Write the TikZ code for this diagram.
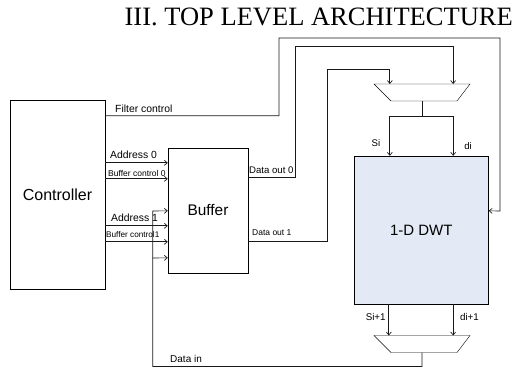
\documentclass[tikz,border=0pt]{standalone}
\usepackage{fontspec}
\setmainfont{Liberation Sans}
\newfontfamily\titlefont{Liberation Serif}
\usetikzlibrary{arrows.meta}
\definecolor{dwtblue}{RGB}{227,234,245}
\tikzset{
  blk/.style={draw,rectangle,inner sep=0pt},
  wire/.style={draw=black!90,line width=.65pt},
  sig/.style={wire,-{Straight Barb[length=3pt,width=5pt]}},
  lbl/.style={inner sep=0pt,font=\fontsize{10.4}{12}\selectfont},
  slbl/.style={inner sep=0pt,font=\fontsize{8.5}{10}\selectfont}
}
\begin{document}
\begin{tikzpicture}[x=1pt,y=-1pt]
\useasboundingbox (0,0) rectangle (515,367);
\node[anchor=base east,inner sep=0pt,font=\titlefont\fontsize{26.5}{30}\selectfont] (title) at (513,25) {III. TOP LEVEL ARCHITECTURE};

\node[blk,minimum width=95pt,minimum height=189pt,font=\fontsize{16}{19}\selectfont] (ctrl) at (57.5,194.5) {Controller};
\node[blk,minimum width=80pt,minimum height=125pt,font=\fontsize{15.4}{18}\selectfont] (buf) at (208,210.5) {Buffer};
\node[blk,fill=dwtblue,minimum width=134.5pt,minimum height=148pt,font=\fontsize{15}{18}\selectfont] (dwt) at (421.25,230) {1-D DWT};

\path (422,92.5) coordinate (muxtop) +(-48,-8.5) coordinate (mt-nw) +(48,-8.5) coordinate (mt-ne)
  +(35,8.5) coordinate (mt-se) +(-31,8.5) coordinate (mt-sw) +(0,-8.5) coordinate (mt-n) +(0,8.5) coordinate (mt-s);
\path (422,344) coordinate (muxbot) +(-48,-8.5) coordinate (mb-nw) +(48,-8.5) coordinate (mb-ne)
  +(35,8.5) coordinate (mb-se) +(-31,8.5) coordinate (mb-sw) +(0,-8.5) coordinate (mb-n) +(0,8.5) coordinate (mb-s);
\draw (mt-nw) -- (mt-ne) -- (mt-se) -- (mt-sw) -- cycle;
\draw (mb-nw) -- (mb-ne) -- (mb-se) -- (mb-sw) -- cycle;

\coordinate (a0) at ([yshift=-15pt]buf.north west);
\coordinate (bc0) at ([yshift=-31pt]buf.north west);
\coordinate (din0) at ([yshift=-63pt]buf.north west);
\coordinate (a1) at ([yshift=-78pt]buf.north west);
\coordinate (bc1) at ([yshift=-94pt]buf.north west);
\coordinate (din1) at ([yshift=-110pt]buf.north west);
\coordinate (do0) at ([yshift=-30pt]buf.north east);
\coordinate (do1) at ([yshift=-94pt]buf.north east);
\coordinate (fc) at ([yshift=-16pt]ctrl.north east);
\coordinate (fcin) at ([yshift=-55pt]dwt.north east);
\coordinate (si) at ([xshift=36pt]dwt.north west);
\coordinate (di) at ([xshift=-35.5pt]dwt.north east);
\coordinate (sio) at ([xshift=35pt]dwt.south west);
\coordinate (dio) at ([xshift=-35.5pt]dwt.south east);
\coordinate (split) at ([yshift=-15pt]mt-s);

\draw[sig] (ctrl.east |- a0) -- (a0);
\draw[sig] (ctrl.east |- bc0) -- (bc0);
\draw[sig] (ctrl.east |- a1) -- (a1);
\draw[sig] (ctrl.east |- bc1) -- (bc1);
\draw[sig] (fc) -| (279,38) -| (500,211) -- (fcin);

\draw[sig] (do0) -| (295,46) -| (di |- mt-n);
\draw[sig] (do1) -| (327,69) -| (si |- mt-n);
\draw[wire] (mt-s) -- (split);
\draw[sig] (split) -| (si);
\draw[sig] (split) -| (di);
\draw[sig] (sio) -- (sio |- mb-n);
\draw[sig] (dio) -- (dio |- mb-n);
\draw[sig] (mb-s) -- ++(0,14) -| (152.7,211) -- (din0);
\draw[sig] (152.7,258) -- (din1);

\node[lbl,anchor=west] (lfc) at (115,109) {Filter control};
\node[lbl,anchor=west] (la0) at (110,155) {Address 0};
\node[slbl,anchor=west] (lbc0) at (108,173) {Buffer control 0};
\node[lbl,anchor=west] (la1) at (111,218) {Address 1};
\node[slbl,anchor=west,font=\fontsize{8.2}{10}\selectfont] (lbc1) at (106,235) {Buffer control1};
\node[lbl,anchor=west,font=\fontsize{9.6}{11}\selectfont] (ldo0) at (249,170) {Data out 0};
\node[slbl,anchor=west] (ldo1) at (252,233) {Data out 1};
\node[lbl,font=\fontsize{9.6}{11}\selectfont] (lsi) at (376,143) {Si};
\node[lbl,font=\fontsize{9.6}{11}\selectfont] (ldi) at (468,146) {di};
\node[lbl,font=\fontsize{9.8}{11}\selectfont] (lsi1) at (375.7,317) {Si+1};
\node[lbl,font=\fontsize{9.8}{11}\selectfont] (ldi1) at (469.5,317) {di+1};
\node[lbl,anchor=west,font=\fontsize{10}{12}\selectfont] (ldin) at (170,358.7) {Data in};
\end{tikzpicture}
\end{document}
